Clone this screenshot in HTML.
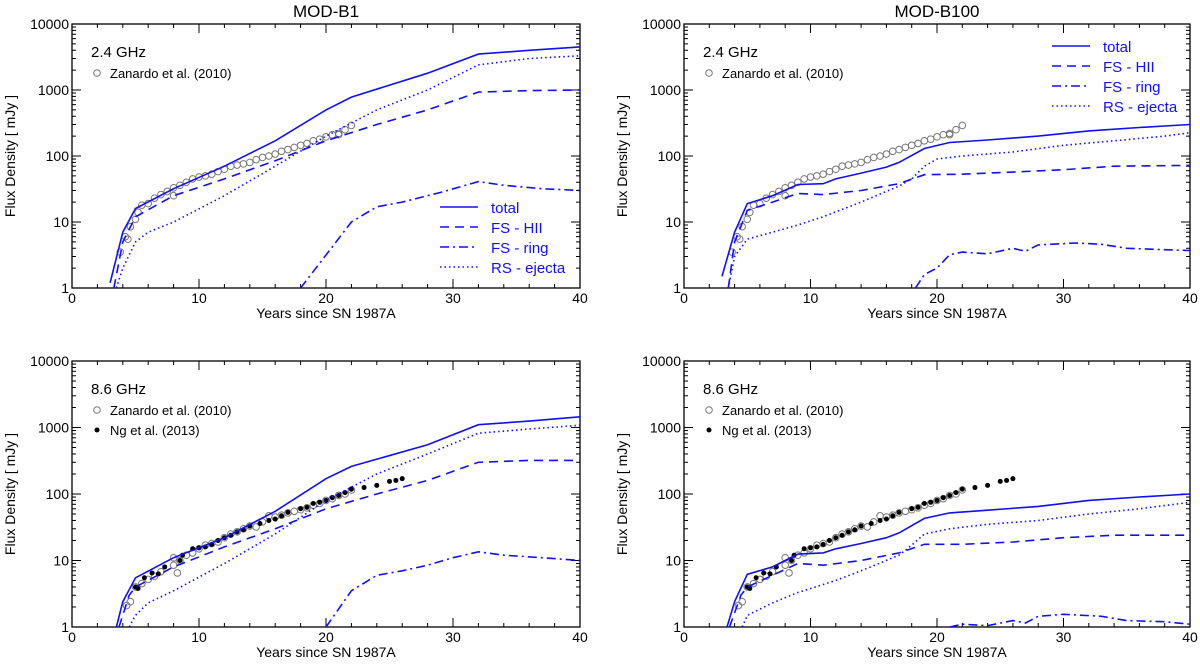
<!DOCTYPE html>
<html><head><meta charset="utf-8"><style>
body{margin:0;background:#fff;}
svg{display:block;font-family:"Liberation Sans",sans-serif;}
</style></head><body>
<svg id="chart" width="1200" height="667" viewBox="0 0 1200 667"></svg>
<script>
const xTicks=[0,10,20,30,40];
const yTicks=[1,10,100,1000,10000];
const yTickLabels=["1","10","100","1000","10000"];
// Observations
const zan24X=[3.8,4.2,4.4,4.6,5,5.2,5.5,6,6.5,7,7.5,8,8,8.5,9,9.5,10,10.5,11,11.5,12,12.5,13,13.5,14,14.5,15,15.5,16,16.5,17,17.5,18,18.5,19,19.5,20,20.5,21,21,21.5,22];
const zan24Y=[3.5,6,5.5,8.5,11,14,18,19,23,26,29,33,25,36,40,45,48,50,53,58,63,70,73,76,80,88,95,100,107,118,125,135,145,155,170,180,195,210,220,210,250,290];
const zan86X=[4.3,4.6,5,5.5,6,6.5,7,8,8,8.3,8.5,9,9.5,10,10.5,11,11.5,12,12.5,13,13.5,14,14.5,15,15.5,16,16.5,17,17.5,18,18.5,19,19.5,20,20.5,21,21.5,22];
const zan86Y=[2.1,2.4,4,4.5,5.2,5.8,6.8,8.5,11,6.5,10,12,13,15,17,18,19,22,25,27,30,33,32,38,47,45,48,52,55,58,62,68,72,80,85,95,100,115];
const ngX=[5,5.2,5.7,6.3,6.8,7.3,8.5,8.7,9.5,10,10.5,11,11.5,12,12.5,13,13.5,14,14.8,15.5,16,16.5,17,18,18.5,19,19.5,20,20.5,21,21.5,22,23,24,25,25.5,26];
const ngY=[4,3.8,5.5,6.5,6.3,8,10,12,15,15.5,16,17.5,20,22,24,27,29,33,36,40,42,47,53,60,63,72,75,80,88,95,105,118,125,135,155,160,170];
// MOD-B1 2.4 GHz
const b1_24_totX=[3,4,5,8,12,16,20,22,28,32,36,40];
const b1_24_totY=[1.2,7,16,32,70,170,500,780,1800,3500,4000,4500];
const b1_24_hiiX=[3.3,4,5,8,12,16,20,24,28,32,36,40];
const b1_24_hiiY=[1,5,12,25,45,85,170,300,500,930,980,1000];
const b1_24_ringX=[18,22,24,26,29,32,34,37,40];
const b1_24_ringY=[1,10,17,20,28,41,36,32,30];
const b1_24_rsX=[3.5,4,5,6,8,12,16,20,24,28,32,36,40];
const b1_24_rsY=[1,2,5,7,10,25,70,200,500,1000,2400,3000,3300];
// MOD-B100 2.4 GHz
const b100_24_totX=[3,4,5,7,9,11,12,14,16,17,19,21,24,28,32,36,40];
const b100_24_totY=[1.5,7,19,25,37,38,45,55,68,80,130,160,175,200,240,270,300];
const b100_24_hiiX=[3.5,4,5,7,9,11,14,17,19,22,26,30,34,40];
const b100_24_hiiY=[1,5,15,20,27,26,30,38,52,53,57,62,70,72];
const b100_24_ringX=[18.3,19,20,21,22,24,26,27,28,31,33,35,38,40];
const b100_24_ringY=[1,1.6,2,3.2,3.5,3.3,4,3.6,4.5,4.8,4.6,4,3.8,3.7];
const b100_24_rsX=[3.5,4,5,7,9,11,14,17,18,19,20,22,26,30,34,38,40];
const b100_24_rsY=[1,3,5.5,7,9,12,20,35,45,70,90,100,115,145,170,200,225];
// MOD-B1 8.6 GHz
const b1_86_totX=[3.5,4,5,8,12,16,20,22,28,32,36,40];
const b1_86_totY=[1,2.4,5.5,11,22,55,170,260,550,1100,1250,1450];
const b1_86_hiiX=[3.7,4.5,5,8,12,16,20,24,28,32,36,40];
const b1_86_hiiY=[1,3,4,8,16,30,60,100,160,300,320,320];
const b1_86_ringX=[20,22,24,26,28,30,32,34,37,40];
const b1_86_ringY=[1,3.5,6,7,8.5,11,13.5,12,11,10];
const b1_86_rsX=[4.5,5,6,8,12,16,20,24,28,32,36,40];
const b1_86_rsY=[1,1.5,2.3,3.5,9,25,80,200,400,820,950,1080];
// MOD-B100 8.6 GHz
const b100_86_totX=[3.4,4,5,7,9,11,12,14,16,17,19,21,24,28,32,36,40];
const b100_86_totY=[1,2.4,6.2,8,12.5,13,15,18,22,26,43,52,57,65,80,90,100];
const b100_86_hiiX=[3.6,4.5,5,7,9,11,14,17,19,22,26,30,34,40];
const b100_86_hiiY=[1,3,4,6,9,8.5,10,13,17.5,17.5,19,22,24,24];
const b100_86_ringX=[21,22,24,26,27,28,30,33,35,38,40];
const b100_86_ringY=[1,1.1,1.05,1.25,1.15,1.45,1.55,1.45,1.25,1.2,1.1];
const b100_86_rsX=[4.6,5,7,9,12,14,17,18,19,21,24,28,32,36,40];
const b100_86_rsY=[1,1.5,2.3,3.3,5,7,12,17,25,30,35,40,50,60,75];

const NS="http://www.w3.org/2000/svg";
const svg=document.getElementById('chart');
function mk(tag,attrs,parent){const e=document.createElementNS(NS,tag);for(const k in attrs)e.setAttribute(k,attrs[k]);(parent||svg).appendChild(e);return e;}
const BLUE="#1010ff";
const dashes={tot:"none",hii:"9,6",ring:"9,4,2,4",rs:"1.5,3"};

function panel(id,x0,x1,y0,y1,title,freq,series,hasNg,legPos){
  const g=mk('g',{});
  
  
  const sx=v=>x0+(v/40)*(x1-x0);
  const sy=v=>y1-(Math.log10(v)/4)*(y1-y0);
  const clip=mk('clipPath',{id:'clip-'+id},g);
  mk('rect',{x:x0,y:y0,width:x1-x0,height:y1-y0},clip);
  if(title){const t=mk('text',{x:(x0+x1)/2,y:y0-7,'text-anchor':'middle','font-size':17},g);t.textContent=title;
    }
  const tk=mk('g',{stroke:'#000','stroke-width':1},g);
  
  for(let v=0;v<=40;v+=2){const X=sx(v);const L=(v%10===0)?9:4;
    mk('line',{x1:X,y1:y1,x2:X,y2:y1-L},tk);mk('line',{x1:X,y1:y0,x2:X,y2:y0+L},tk);}
  for(let d=0;d<4;d++)for(let m=1;m<10;m++){const v=m*Math.pow(10,d);const Y=sy(v);const L=m===1?9:4;
    mk('line',{x1:x0,y1:Y,x2:x0+L,y2:Y},tk);mk('line',{x1:x1,y1:Y,x2:x1-L,y2:Y},tk);}
  mk('rect',{x:x0,y:y0,width:x1-x0,height:y1-y0,fill:'none',stroke:'#000','stroke-width':1.3},g);
  xTicks.forEach(v=>{const t=mk('text',{x:sx(v),y:y1+15,'text-anchor':'middle','font-size':14},g);t.textContent=v;
    });
  yTicks.forEach((v,i)=>{const t=mk('text',{x:x0-3,y:sy(v)+5,'text-anchor':'end','font-size':14},g);t.textContent=yTickLabels[i];
    });
  const xl=mk('text',{x:(x0+x1)/2,y:y1+30,'text-anchor':'middle','font-size':14},g);xl.textContent='Years since SN 1987A';
  
  const yx=x0-57,yc=(y0+y1)/2;
  const yl=mk('text',{x:yx,y:yc,'text-anchor':'middle','font-size':14,transform:`rotate(-90 ${yx} ${yc})`},g);yl.textContent='Flux Density [ mJy ]';
  
  const dg=mk('g',{'clip-path':`url(#clip-${id})`},g);
  const zx=hasNg?zan86X:zan24X, zy=hasNg?zan86Y:zan24Y;
  zx.forEach((v,i)=>{const c=mk('circle',{cx:sx(v),cy:sy(zy[i]),r:3.3,fill:'none',stroke:'#777','stroke-width':1},dg);
    });
  if(hasNg) ngX.forEach((v,i)=>{const c=mk('circle',{cx:sx(v),cy:sy(ngY[i]),r:2.5,fill:'#000'},dg);
    });
  series.forEach(s=>{const pts=s.x.map((v,i)=>sx(v).toFixed(1)+','+sy(s.y[i]).toFixed(1)).join(' ');
    const p=mk('polyline',{points:pts,fill:'none',stroke:BLUE,'stroke-width':1.6,'stroke-dasharray':dashes[s.k]},dg);
    });
  const ox=x0+19;
  const f=mk('text',{x:ox,y:y0+33,'font-size':15},g);f.textContent=freq;
  
  const c1=mk('circle',{cx:ox+6,cy:y0+49,r:3.3,fill:'none',stroke:'#777'},g);
  
  const t1=mk('text',{x:ox+19,y:y0+54,'font-size':13},g);t1.textContent='Zanardo et al. (2010)';
  
  if(hasNg){const c2=mk('circle',{cx:ox+6,cy:y0+69,r:2.5,fill:'#000'},g);
    
    const t2=mk('text',{x:ox+19,y:y0+74,'font-size':13},g);t2.textContent='Ng et al. (2013)';
    }
  if(legPos){const names=['total','FS - HII','FS - ring','RS - ejecta'];const ks=['tot','hii','ring','rs'];
    names.forEach((n,i)=>{const Y=legPos[1]+i*20;
      const l=mk('line',{x1:legPos[0],y1:Y,x2:legPos[0]+38,y2:Y,stroke:BLUE,'stroke-width':1.6,'stroke-dasharray':dashes[ks[i]]},g);
      
      const t=mk('text',{x:legPos[0]+51,y:Y+6,'font-size':15,fill:BLUE},g);t.textContent=n;
      });}
}
function S(k,x,y){return {k:k,x:x,y:y};}
panel('b1-24',72,580,24,288,'MOD-B1','2.4 GHz',[S('tot',b1_24_totX,b1_24_totY),S('hii',b1_24_hiiX,b1_24_hiiY),S('ring',b1_24_ringX,b1_24_ringY),S('rs',b1_24_rsX,b1_24_rsY)],false,[440,207]);
panel('b100-24',684,1190,24,288,'MOD-B100','2.4 GHz',[S('tot',b100_24_totX,b100_24_totY),S('hii',b100_24_hiiX,b100_24_hiiY),S('ring',b100_24_ringX,b100_24_ringY),S('rs',b100_24_rsX,b100_24_rsY)],false,[1052,46]);
panel('b1-86',72,580,361,627,null,'8.6 GHz',[S('tot',b1_86_totX,b1_86_totY),S('hii',b1_86_hiiX,b1_86_hiiY),S('ring',b1_86_ringX,b1_86_ringY),S('rs',b1_86_rsX,b1_86_rsY)],true,null);
panel('b100-86',684,1190,361,627,null,'8.6 GHz',[S('tot',b100_86_totX,b100_86_totY),S('hii',b100_86_hiiX,b100_86_hiiY),S('ring',b100_86_ringX,b100_86_ringY),S('rs',b100_86_rsX,b100_86_rsY)],true,null);
</script>
</body></html>
